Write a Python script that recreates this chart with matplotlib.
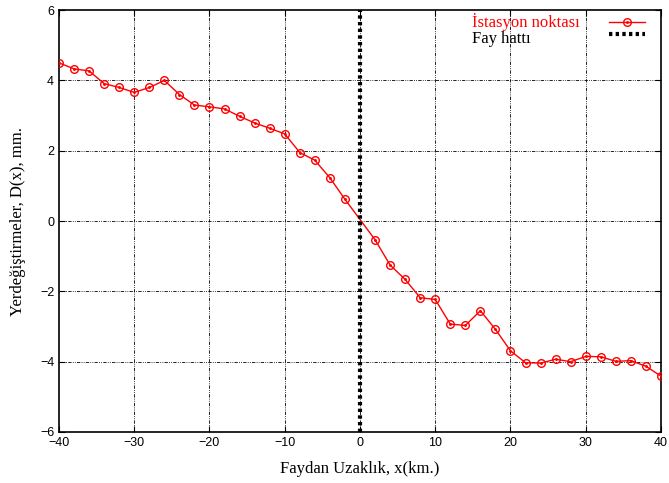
import matplotlib
matplotlib.use("Agg")
import matplotlib.pyplot as plt

# istasyon noktaları (km) ve yerdeğiştirmeler (mm)
x_km = [-40, -38, -36, -34, -32, -30, -28, -26, -24, -22, -20, -18, -16, -14,
        -12, -10, -8, -6, -4, -2, 2, 4, 6, 8, 10, 12, 14, 16, 18, 20, 22,
        24, 26, 28, 30, 32, 34, 36, 38, 40]
d_mm = [4.50, 4.33, 4.27, 3.91, 3.80, 3.66, 3.80, 4.00, 3.60, 3.30, 3.25,
        3.19, 2.98, 2.79, 2.64, 2.48, 1.95, 1.73, 1.23, 0.62, -0.53,
        -1.25, -1.66, -2.18, -2.23, -2.93, -2.97, -2.55, -3.08, -3.69, -4.03,
        -4.04, -3.93, -4.00, -3.85, -3.86, -3.99, -3.97, -4.13, -4.41]
fault_x = [0, 0]
fault_y = [-6, 6]
labels = ["İstasyon noktası", "Fay hattı"]

serif = ["Liberation Serif", "DejaVu Serif"]
sans = ["Liberation Sans", "DejaVu Sans"]

fig = plt.figure(figsize=(6.69, 4.83), dpi=100)
ax = fig.add_axes([0.0882, 0.1056, 0.8998, 0.8734])

grid_ls = (0, (4, 1.5, 1, 1.5, 1, 1.5))
for gx in range(-30, 40, 10):
    ax.axvline(gx, color="black", lw=0.6, ls=grid_ls, zorder=1)
for gy in range(-4, 6, 2):
    ax.axhline(gy, color="black", lw=0.6, ls=grid_ls, zorder=1)

ax.plot(x_km, d_mm, color="red", lw=1.0, marker="o", ms=5.5, mfc="none",
        mec="red", mew=1.0, zorder=3)
ax.plot(x_km, d_mm, ls="none", marker=".", ms=2.2, color="red", zorder=3)
ax.plot(fault_x, fault_y, color="black", lw=3, ls=(0, (0.8, 0.8)), zorder=4)

ax.set_xlim(-40, 40)
ax.set_ylim(-6, 6)
ax.set_xticks(range(-40, 41, 10))
ax.set_yticks(range(-6, 7, 2))
ax.tick_params(direction="in", top=True, right=True, length=4, width=0.8,
               labelsize=9)
for lab in ax.get_xticklabels() + ax.get_yticklabels():
    lab.set_family(sans)
for s in ax.spines.values():
    s.set_linewidth(1.2)

ax.set_xlabel("Faydan Uzaklık, x(km.)", family=serif, fontsize=12, labelpad=9)
ax.set_ylabel("Yerdeğiştirmeler, D(x), mm.", family=serif, fontsize=12,
              labelpad=10)

# gnuplot tarzı anahtar: metin solda (sola hizalı), örnek çizgi sağda
tr = ax.transAxes
ax.text(0.686, 0.9727, labels[0], color="red", family=serif, fontsize=12,
        va="center", ha="left", transform=tr)
ax.text(0.686, 0.9325, labels[1], color="black", family=serif, fontsize=12,
        va="center", ha="left", transform=tr)
ax.plot([0.9136, 0.9734], [0.9716, 0.9716], color="red", lw=1.0,
        transform=tr, clip_on=False)
ax.plot([0.9435], [0.9716], marker="o", ms=5.5, mfc="none", mec="red",
        mew=1.0, transform=tr, clip_on=False)
ax.plot([0.9435], [0.9716], marker=".", ms=2.2, color="red", transform=tr,
        clip_on=False)
ax.plot([0.9136, 0.9734], [0.943, 0.943], color="black", lw=3,
        ls=(0, (0.8, 0.8)), transform=tr, clip_on=False)

fig.savefig("out.png", dpi=100)
